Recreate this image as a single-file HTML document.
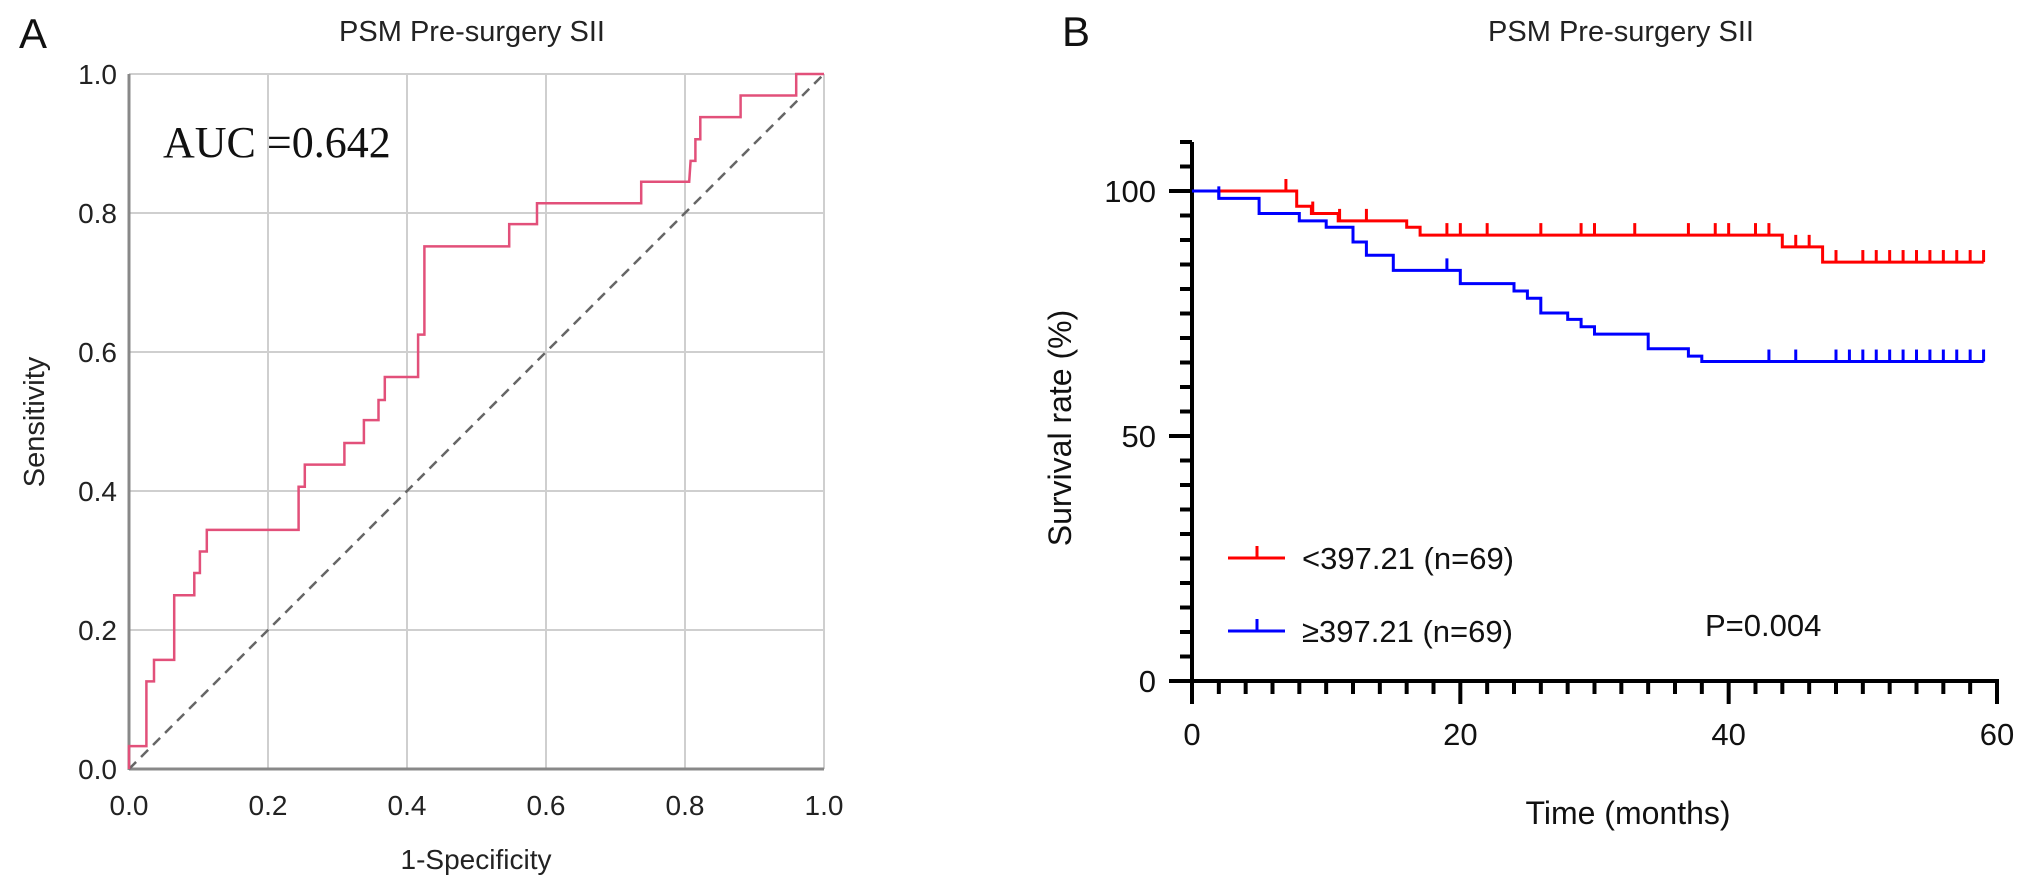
<!DOCTYPE html>
<html><head><meta charset="utf-8"><style>
html,body{margin:0;padding:0;background:#fff;}
svg{display:block;font-family:"Liberation Sans",Arial,sans-serif;}
</style></head><body>
<svg id="fig" width="2032" height="888" viewBox="0 0 2032 888">
<g id="panelA"></g>
<g id="panelB"></g>
</svg>
<script>
// ---------- Panel A data (ROC) ----------
const rocFpr = [0,0,0.025,0.025,0.036,0.036,0.065,0.065,0.094,0.094,0.102,0.102,0.112,0.112,0.244,0.244,0.253,0.253,0.310,0.310,0.338,0.338,0.359,0.359,0.368,0.368,0.416,0.416,0.425,0.425,0.547,0.547,0.587,0.587,0.737,0.737,0.806,0.808,0.815,0.815,0.822,0.822,0.830,0.830,0.880,0.880,0.960,0.960,1.0];
const rocTpr = [0,0.033,0.033,0.126,0.126,0.157,0.157,0.25,0.25,0.282,0.282,0.313,0.313,0.344,0.344,0.406,0.406,0.438,0.438,0.469,0.469,0.502,0.502,0.531,0.531,0.564,0.564,0.625,0.625,0.752,0.752,0.784,0.784,0.814,0.814,0.845,0.845,0.875,0.875,0.906,0.906,0.938,0.938,0.938,0.938,0.969,0.969,1.0,1.0];
const rocTicks = ["0.0","0.2","0.4","0.6","0.8","1.0"];
const aucLabel = "AUC =0.642";

// ---------- Panel B data (Kaplan-Meier) ----------
const lowTimes = [0,7.8,8.9,10.9,16,17,44,47,59];
const lowSurv  = [100,96.9,95.4,93.9,92.6,91.0,88.6,85.5,85.5];
const lowCens  = [7,9,11,13,19,20,22,26,29,30,33,37,39,40,42,43,45,46,48,50,51,52,53,54,55,56,57,58,59];
const highTimes = [0,2,5,8,10,12,13,15,20,24,25,26,28,29,30,34,37,38,59];
const highSurv  = [100,98.5,95.4,93.9,92.6,89.6,86.9,83.8,81.1,79.6,78.1,75.1,73.8,72.3,70.8,67.8,66.3,65.2,65.2];
const highCens  = [2,19,43,45,48,49,50,51,52,53,54,55,56,57,58,59];
const kmYTicks = [0,50,100];
const kmXTicks = [0,20,40,60];

const NS="http://www.w3.org/2000/svg";
function mk(parent,tag,attrs,text){const e=document.createElementNS(NS,tag);for(const k in attrs)e.setAttribute(k,attrs[k]);if(text!==undefined)e.textContent=text;parent.appendChild(e);return e;}

// ===== Panel A =====
const A=document.getElementById('panelA');
const ax0=129,ax1=824,ay0=769,ay1=74;
const sx=v=>ax0+v*(ax1-ax0), sy=v=>ay0-v*(ay0-ay1);
let t;
t=mk(A,'text',{x:19,y:48,'font-size':42,fill:'#111'},'A');

t=mk(A,'text',{x:472,y:41,'font-size':29,'text-anchor':'middle',fill:'#222'},'PSM Pre-surgery SII');

rocTicks.forEach((lab,i)=>{
  const v=parseFloat(lab);
  let g=mk(A,'line',{x1:sx(v),x2:sx(v),y1:ay0,y2:ay1,stroke:'#cfcfcf','stroke-width':2});
  
  g=mk(A,'line',{x1:ax0,x2:ax1,y1:sy(v),y2:sy(v),stroke:'#cfcfcf','stroke-width':2});
  
  let l=mk(A,'text',{x:sx(v),y:815,'font-size':28,'text-anchor':'middle',fill:'#222'},lab);
  
  l=mk(A,'text',{x:117,y:sy(v)+10,'font-size':28,'text-anchor':'end',fill:'#222'},lab);
  
});
let ax=mk(A,'line',{x1:ax0,x2:ax0,y1:ay0+1,y2:ay1,stroke:'#888','stroke-width':3});

ax=mk(A,'line',{x1:ax0,x2:ax1,y1:ay0,y2:ay0,stroke:'#888','stroke-width':3});

let dg=mk(A,'line',{x1:sx(0),y1:sy(0),x2:sx(1),y2:sy(1),stroke:'#666','stroke-width':2.5,'stroke-dasharray':'10,7'});

let pts=rocFpr.map((f,i)=>sx(f).toFixed(1)+','+sy(rocTpr[i]).toFixed(1)).join(' ');
let roc=mk(A,'polyline',{points:pts,fill:'none',stroke:'#e2507a','stroke-width':2.5});

t=mk(A,'text',{x:163,y:157,'font-size':44,'font-family':'"Liberation Serif",serif',fill:'#111'},aucLabel);

t=mk(A,'text',{x:476,y:869,'font-size':28,'text-anchor':'middle',fill:'#222'},'1-Specificity');

t=mk(A,'text',{x:0,y:0,'font-size':29,'text-anchor':'middle',fill:'#222',transform:'translate(44,422) rotate(-90)'},'Sensitivity');


// ===== Panel B =====
const B=document.getElementById('panelB');
const bx0=1192,bx1=1997,by0=681,by100=191;
const tx=v=>bx0+v*(bx1-bx0)/60, ty=v=>by0-v*(by0-by100)/100;
t=mk(B,'text',{x:1062,y:46,'font-size':42,fill:'#111'},'B');

t=mk(B,'text',{x:1621,y:41,'font-size':29,'text-anchor':'middle',fill:'#222'},'PSM Pre-surgery SII');

ax=mk(B,'line',{x1:bx0,x2:bx0,y1:ty(110),y2:by0+2,stroke:'#000','stroke-width':4});

for(let v=0;v<=110;v+=5){
  const major=(v%50===0);
  let k=mk(B,'line',{x1:bx0-(major?23:12),x2:bx0,y1:ty(v),y2:ty(v),stroke:'#000','stroke-width':4});
  
}
kmYTicks.forEach(v=>{
  let l=mk(B,'text',{x:1156,y:ty(v)+11,'font-size':31,'text-anchor':'end',fill:'#111'},String(v));
  
});
ax=mk(B,'line',{x1:bx0-2,x2:bx1+2,y1:by0,y2:by0,stroke:'#000','stroke-width':4});

for(let v=0;v<=60;v+=2){
  const major=(v%20===0);
  let k=mk(B,'line',{x1:tx(v),x2:tx(v),y1:by0,y2:by0+(major?23:13),stroke:'#000','stroke-width':4});
  
}
kmXTicks.forEach(v=>{
  let l=mk(B,'text',{x:tx(v),y:745,'font-size':31,'text-anchor':'middle',fill:'#111'},String(v));
  
});
t=mk(B,'text',{x:1628,y:824,'font-size':32,'text-anchor':'middle',fill:'#111'},'Time (months)');

t=mk(B,'text',{x:0,y:0,'font-size':32,'text-anchor':'middle',fill:'#111',transform:'translate(1071,428) rotate(-90)'},'Survival rate (%)');


function stepPath(times,surv){
  let d='M'+tx(times[0]).toFixed(1)+','+ty(surv[0]).toFixed(1);
  for(let i=1;i<times.length;i++){
    d+=' H'+tx(times[i]).toFixed(1)+' V'+ty(surv[i]).toFixed(1);
  }
  return d;
}
function survAt(times,surv,tm){let s=surv[0];for(let i=0;i<times.length;i++){if(times[i]<=tm)s=surv[i];}return s;}
function drawCurve(times,surv,cens,color,name){
  let p=mk(B,'path',{d:stepPath(times,surv),fill:'none',stroke:color,'stroke-width':3});
  
  cens.forEach(c=>{
    const y=ty(survAt(times,surv,c));
    let m=mk(B,'line',{x1:tx(c),x2:tx(c),y1:y,y2:y-12,stroke:color,'stroke-width':3});
    
  });
}
drawCurve(lowTimes,lowSurv,lowCens,'#ff0000','low-sii');
drawCurve(highTimes,highSurv,highCens,'#0000ff','high-sii');

const leg=[['#ff0000','<397.21 (n=69)',558,'legend-entry-low'],['#0000ff','\u2265397.21 (n=69)',631,'legend-entry-high']];
leg.forEach(e=>{
  let g=mk(B,'g',{});
  
  mk(g,'line',{x1:1228,x2:1285,y1:e[2],y2:e[2],stroke:e[0],'stroke-width':3});
  mk(g,'line',{x1:1257,x2:1257,y1:e[2],y2:e[2]-12,stroke:e[0],'stroke-width':3});
  mk(g,'text',{x:1302,y:e[2]+11,'font-size':31,fill:'#111'},e[1]);
});
t=mk(B,'text',{x:1705,y:636,'font-size':31,fill:'#111'},'P=0.004');

</script>
</body></html>
